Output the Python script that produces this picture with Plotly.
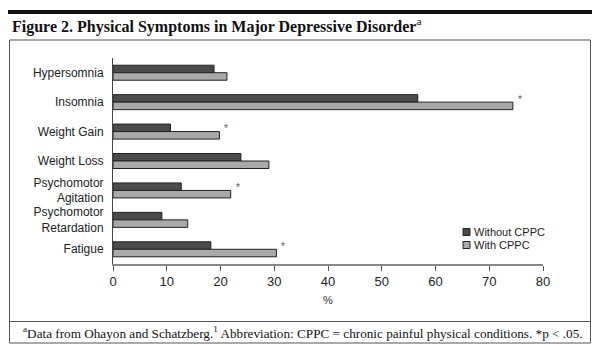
import plotly.graph_objects as go

categories = ["Hypersomnia", "Insomnia", "Weight Gain", "Weight Loss",
              "Psychomotor<br>Agitation", "Psychomotor<br>Retardation", "Fatigue"]
without_cppc = [18.8, 56.7, 10.7, 23.8, 12.7, 9.1, 18.2]
with_cppc = [21.2, 74.4, 19.8, 29.0, 21.9, 13.9, 30.4]
significant = [False, True, True, False, True, False, True]
series_names = ["Without CPPC", "With CPPC"]
series_colors = ["#4b4b4b", "#a9a9a9"]
x_ticks = [0, 10, 20, 30, 40, 50, 60, 70, 80]

W, H = 600, 350
L, R, T, B = 113, 57, 58, 86
PW, PH = W - L - R, H - T - B

def px(x):
    return (x - L) / PW

def py(y):
    return (H - B - y) / PH

fig = go.Figure()
for name, vals, col in zip(series_names, [without_cppc, with_cppc], series_colors):
    fig.add_trace(go.Bar(y=categories, x=vals, orientation="h", name=name,
                         marker=dict(color=col, line=dict(color="#222", width=1))))

annotations = []
for c, v, s in zip(categories, with_cppc, significant):
    if s:
        annotations.append(dict(x=v, y=c, xref="x", yref="y", text="*", showarrow=False,
                                xanchor="left", yanchor="middle", xshift=3, yshift=3,
                                font=dict(family="Liberation Sans", size=10, color="#555")))

annotations.append(dict(x=px(10), y=py(25), xref="paper", yref="paper", xanchor="left", yanchor="middle",
                        showarrow=False,
                        text="<b>Figure 2. Physical Symptoms in Major Depressive Disorder</b><sup>a</sup>",
                        font=dict(family="Liberation Serif", size=16, color="#111")))
annotations.append(dict(x=px(303), y=py(332), xref="paper", yref="paper", xanchor="center", yanchor="middle",
                        showarrow=False,
                        text="<sup>a</sup>Data from Ohayon and Schatzberg.<sup>1</sup> Abbreviation: CPPC = chronic painful physical conditions. *p < .05.",
                        font=dict(family="Liberation Serif", size=13.2, color="#111")))

shapes = [
    dict(type="line", xref="paper", yref="paper", x0=px(8), x1=px(592), y0=py(12), y1=py(12),
         line=dict(color="#111", width=4)),
    dict(type="rect", xref="paper", yref="paper", x0=px(9.5), x1=px(590.5), y0=py(40), y1=py(343),
         line=dict(color="#555", width=1)),
    dict(type="line", xref="paper", yref="paper", x0=px(9.5), x1=px(590.5), y0=py(321.5), y1=py(321.5),
         line=dict(color="#555", width=1)),
]

# custom compact legend
for i, (name, col) in enumerate(zip(series_names, series_colors)):
    yc = 232 + 13 * i
    shapes.append(dict(type="rect", xref="paper", yref="paper", x0=px(463), x1=px(470),
                       y0=py(yc - 3.5), y1=py(yc + 3.5), fillcolor=col, line=dict(color="#222", width=1)))
    annotations.append(dict(x=px(472), y=py(yc), xref="paper", yref="paper", xanchor="left",
                            yanchor="middle", showarrow=False, text=name,
                            font=dict(family="Liberation Sans", size=11, color="#222")))

fig.update_layout(
    width=W, height=H, autosize=False,
    margin=dict(l=L, r=R, t=T, b=B, pad=0),
    paper_bgcolor="white", plot_bgcolor="white",
    barmode="group", bargap=0.49, bargroupgap=0,
    showlegend=False,
    annotations=annotations, shapes=shapes,
    xaxis=dict(range=[0, 80], tickvals=x_ticks, showgrid=False, zeroline=False,
               showline=True, linecolor="#888", linewidth=1.5, ticks="outside", ticklen=5,
               tickcolor="#555", tickfont=dict(family="Liberation Sans", size=13, color="#222"),
               title=dict(text="%", font=dict(family="Liberation Sans", size=11, color="#333"), standoff=8)),
    yaxis=dict(range=[6.5, -0.5], showgrid=False, zeroline=False, showline=True, linecolor="#444",
               linewidth=1, ticks="", ticklabelstandoff=6,
               tickfont=dict(family="Liberation Sans", size=12, color="#222")),
)

fig.write_html("out.html")
